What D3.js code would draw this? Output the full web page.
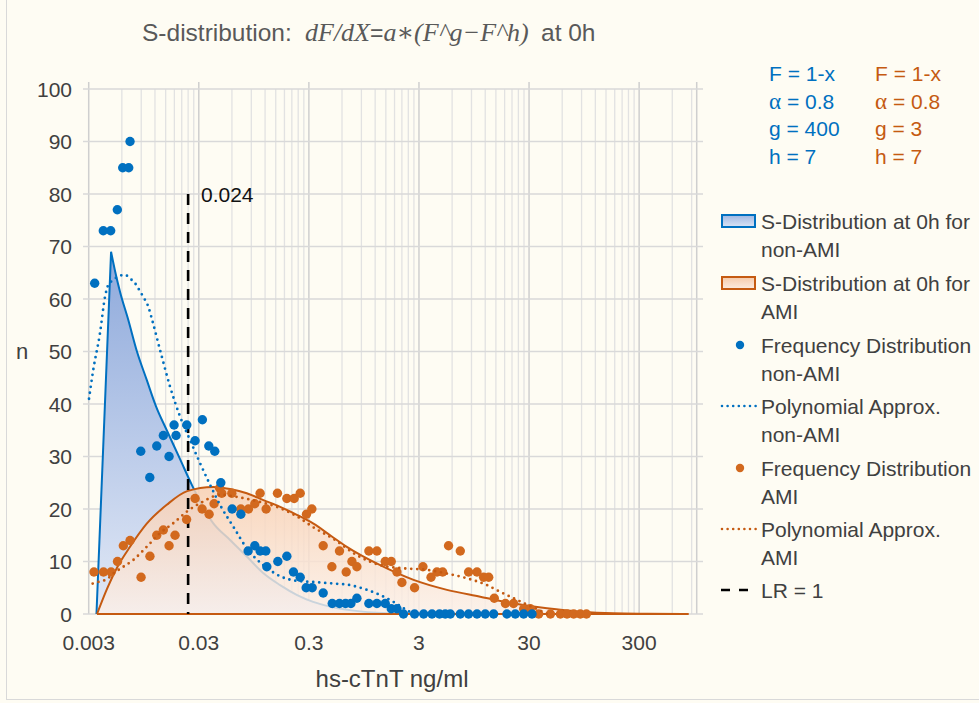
<!DOCTYPE html>
<html><head><meta charset="utf-8">
<script src="https://cdn.jsdelivr.net/npm/d3@7"></script>
<style>
html,body{margin:0;padding:0;background:#fefcf3;}
svg{display:block;}
</style></head>
<body>
<script>
// ---------------- DATA ----------------
const xTickLabels = ["0.003","0.03","0.3","3","30","300"];
const xTickValues = [0.003,0.03,0.3,3,30,300];
const yTickValues = [0,10,20,30,40,50,60,70,80,90,100];
const lrValue = 0.024;

// Frequency distribution non-AMI (dots)
const freqNonAmiX = [0.0034,0.00407,0.00475,0.00546,0.00611,0.00693,0.00712,0.00891,0.01076,0.01245,0.01429,0.01611,0.01789,0.01865,0.02334,0.02776,0.03234,0.03699,0.0419,0.04755,0.06025,0.0723,0.0842,0.0968,0.1082,0.1219,0.1245,0.1567,0.1893,0.2173,0.2502,0.2835,0.3216,0.4047,0.4887,0.569,0.646,0.723,0.819,1.052,1.245,1.482,1.68,1.893,2.17,2.736,3.31,3.94,4.61,5.2,5.78,7.12,8.47,10.1,12.0,14.3,18.9,22.5,26.8,31.9];
const freqNonAmiY = [63,73,73,77,85,85,90,31,26,32,34,30,36,34,36,33,37,32,31,25,20,19,12,13,12,12,9,10,11,8,7,5,5,4,2,2,2,2,3,2,2,2,1,1,0,0,0,0,0,0,0,0,0,0,0,0,0,0,0,0];

// Frequency distribution AMI (dots)
const freqAmiX = [0.00335,0.00409,0.00479,0.00548,0.00619,0.00712,0.00897,0.0108,0.01245,0.01429,0.01611,0.01826,0.02324,0.02776,0.03216,0.03723,0.0413,0.04636,0.0485,0.05986,0.0723,0.0848,0.0968,0.1082,0.1227,0.1555,0.1893,0.2205,0.2502,0.2853,0.3193,0.4047,0.4854,0.569,0.655,0.738,0.819,1.052,1.245,1.482,1.68,1.893,2.1,2.736,3.26,3.86,4.37,4.92,5.57,7.12,8.47,10.1,11.6,12.9,14.5,18.3,21.7,26.8,30.8,36.7,46.9,57.8,66.4,76.3,87.7,99.6];
const freqAmiY = [8,8,8,10,13,14,7,11,15,16,13,15,18,22,20,19,21,24,23,23,20,20,21,23,20,23,22,22,23,19,20,13,9,12,8,10,9,12,12,10,10,8,6,5,9,7,8,8,13,12,8,8,7,7,3,2,2,1,1,0,0,0,0,0,0,0];

// S-distribution at 0h, non-AMI (start, peak, then decay)
const sNonAmiX = [0.00353,0.00479,0.00521,0.00579,0.00687,0.00823,0.0101,0.01229,0.01535,0.02028,0.02607,0.0405,0.05776,0.0824,0.1153,0.1644,0.2349,0.328,0.4685,0.8775,2.03,4.69];
const sNonAmiY = [0,69,65.3,61.3,56,50,44.6,39.5,35,29.5,24.5,17.3,14.1,10.9,7.8,5.5,3.6,2.3,1.4,0.5,0.1,0];

// S-distribution at 0h, AMI
const sAmiX = [0.00357,0.0044,0.00548,0.00712,0.0101,0.01535,0.0235,0.04075,0.05776,0.0819,0.1159,0.1644,0.2334,0.3304,0.4685,0.664,1.334,2.68,5.39,10.8,21.7,43.7,87.7,176,355,842];
const sAmiY = [0,4.8,9,12.8,17.2,20.8,23.4,24.2,23.8,23,21.7,20.4,18.9,17.2,15,12.8,9.3,6.5,4.6,3.3,2,1.1,0.45,0.13,0.05,0];

// Polynomial approximation non-AMI
const polyNonAmiX = [0.00302,0.0033,0.0038,0.00422,0.00452,0.00502,0.00569,0.00641,0.00712,0.00791,0.00865,0.0094,0.01045,0.01121,0.01334,0.01645,0.02028,0.025,0.03084,0.0388,0.04785,0.0619,0.0819,0.1159,0.1644,0.2334,0.3304,0.502,0.664,1.01,1.334,1.763,2.17,2.68];
const polyNonAmiY = [41,46.5,53.5,60.4,62.7,63.6,64.4,64.6,63.9,63,61.7,60.4,58.5,56.3,50.3,43.3,37.6,33.1,28.7,24.2,20.4,16.6,12.5,9.3,7.2,6.3,6.1,5.8,5.6,4.6,3.6,2.3,1.1,0];

// Polynomial approximation AMI
const polyAmiX = [0.00326,0.0038,0.00437,0.00502,0.00619,0.00763,0.0101,0.01334,0.01763,0.02334,0.03084,0.04785,0.0665,0.101,0.1536,0.2334,0.3304,0.502,0.819,1.334,2.17,3.55,5.39,8.19,12.45,16.45,21.7,30.8,36.7,43.7];
const polyAmiY = [5.8,6.2,6.6,7.7,9,10.3,12.8,15.4,17.3,19.5,21.1,22.7,22.3,21.5,20.4,18.6,16.5,14.3,11.2,9.3,8.7,8.4,7.7,6.8,5.5,4.2,3,1.5,0.8,0];

const paramNames = ["F","\u03B1","g","h"];
const paramsNonAmi = ["1-x","0.8","400","7"];
const paramsAmi = ["1-x","0.8","3","7"];
const legendItems = [
  {type:"rectBlue", lines:["S-Distribution at 0h for","non-AMI"]},
  {type:"rectOrange", lines:["S-Distribution at 0h for","AMI"]},
  {type:"dotBlue", lines:["Frequency Distribution","non-AMI"]},
  {type:"dotLineBlue", lines:["Polynomial Approx.","non-AMI"]},
  {type:"dotOrange", lines:["Frequency Distribution","AMI"]},
  {type:"dotLineOrange", lines:["Polynomial Approx.","AMI"]},
  {type:"dash", lines:["LR = 1"]}
];

// ---------------- DRAW ----------------
const W = 979, H = 703;
const BLUE = "#0070c0", ORANGE = "#c55a11", DOT_OR = "#d2691e";
const FONT = "'Liberation Sans',Arial,sans-serif";
const SERIF = "'Liberation Serif','DejaVu Serif',serif";
const svg = d3.select("body").append("svg").attr("width", W).attr("height", H);
svg.append("rect").attr("x",0).attr("y",0).attr("width",W).attr("height",H).attr("fill","#fefcf3");
svg.append("rect").attr("x",6.5).attr("y",-5).attr("width",W).attr("height",704.5).attr("fill","none").attr("stroke","#d9d9d9");

const x = d3.scaleLog().domain([0.003, 1000]).range([88.7, 696.7]);
const y = d3.scaleLinear().domain([0, 100]).range([614, 89]);

const defs = svg.append("defs");
const gb = defs.append("linearGradient").attr("id","gBlue").attr("gradientUnits","userSpaceOnUse")
  .attr("x1",0).attr("x2",0).attr("y1",y(69)).attr("y2",y(0));
gb.append("stop").attr("offset",0).attr("stop-color","#8ea9db");
gb.append("stop").attr("offset",1).attr("stop-color","#e2e9f6");
const go = defs.append("linearGradient").attr("id","gOrange").attr("gradientUnits","userSpaceOnUse")
  .attr("x1",0).attr("x2",0).attr("y1",y(24.2)).attr("y2",y(0));
go.append("stop").attr("offset",0).attr("stop-color","#f8cfb2").attr("stop-opacity",0.85);
go.append("stop").attr("offset",1).attr("stop-color","#fbefe8").attr("stop-opacity",0.8);
const gbl = defs.append("linearGradient").attr("id","gBlueL").attr("x1",0).attr("x2",0).attr("y1",0).attr("y2",1);
gbl.append("stop").attr("offset",0).attr("stop-color","#9fb7e2");
gbl.append("stop").attr("offset",1).attr("stop-color","#dbe4f4");
const gol = defs.append("linearGradient").attr("id","gOrangeL").attr("x1",0).attr("x2",0).attr("y1",0).attr("y2",1);
gol.append("stop").attr("offset",0).attr("stop-color","#f6caa9");
gol.append("stop").attr("offset",1).attr("stop-color","#fcebe0");

// grid
const grid = svg.append("g");
const minor = [];
xTickValues.forEach(b => { for (let k = 2; k <= 9; k++) { if (b*k < 1000) minor.push(b*k); } });
grid.selectAll("line.minor").data(minor).enter().append("line")
  .attr("x1", d => x(d)).attr("x2", d => x(d)).attr("y1", y(100)).attr("y2", y(0))
  .attr("stroke","#e2e2e2").attr("stroke-width",1.3);
grid.selectAll("line.major").data(xTickValues.concat([1000])).enter().append("line")
  .attr("x1", d => x(d)).attr("x2", d => x(d)).attr("y1", y(100)-7).attr("y2", y(0))
  .attr("stroke","#cfcfcf").attr("stroke-width",1.5);
grid.selectAll("line.h").data(yTickValues).enter().append("line")
  .attr("x1", 83).attr("x2", 703).attr("y1", d => y(d)).attr("y2", d => y(d))
  .attr("stroke","#d9d9d9").attr("stroke-width",1.5);

// S-distribution non-AMI: straight rise to the peak, smooth decay after it
const ptsNon = sNonAmiX.map((v,i)=>[v,sNonAmiY[i]]);
const smoothLine = d3.line().x(d=>x(d[0])).y(d=>y(d[1])).curve(d3.curveMonotoneX);
const decayPath = smoothLine(ptsNon.slice(1));
const nonLine = `M${x(ptsNon[0][0])},${y(0)}L` + decayPath.substring(1);
const nonArea = nonLine + `L${x(ptsNon[ptsNon.length-1][0])},${y(0)}Z`;
svg.append("path").attr("d", nonArea).attr("fill","url(#gBlue)");
svg.append("path").attr("d", nonLine).attr("fill","none").attr("stroke",BLUE).attr("stroke-width",2);

// S-distribution AMI
const ptsAmi = sAmiX.map((v,i)=>[v,sAmiY[i]]);
const areaS = d3.area().x(d=>x(d[0])).y0(y(0)).y1(d=>y(d[1])).curve(d3.curveMonotoneX);
svg.append("path").attr("d", areaS(ptsAmi)).attr("fill","url(#gOrange)");
svg.append("path").attr("d", smoothLine(ptsAmi)).attr("fill","none").attr("stroke",ORANGE).attr("stroke-width",2);
svg.append("line").attr("x1", x(sAmiX[0])).attr("x2", x(sAmiX[sAmiX.length-1])).attr("y1",y(0)).attr("y2",y(0))
  .attr("stroke",ORANGE).attr("stroke-width",2);

// LR line
svg.append("line").attr("x1",x(lrValue)).attr("x2",x(lrValue)).attr("y1",y(80)).attr("y2",y(0))
  .attr("stroke","#000").attr("stroke-width",2.6).attr("stroke-dasharray","11 8");
svg.append("text").attr("x", 201).attr("y", 202).text("0.024")
  .attr("font-family",FONT).attr("font-size",21).attr("fill","#111");

// dots
const dotsBlue = freqNonAmiX.map((v,i)=>[v,freqNonAmiY[i]]);
const dotsOr = freqAmiX.map((v,i)=>[v,freqAmiY[i]]);
svg.append("g").selectAll("circle").data(dotsOr).enter().append("circle")
  .attr("cx",d=>x(d[0])).attr("cy",d=>y(d[1])).attr("r",4.7).attr("fill",DOT_OR);
svg.append("g").selectAll("circle").data(dotsBlue).enter().append("circle")
  .attr("cx",d=>x(d[0])).attr("cy",d=>y(d[1])).attr("r",4.7).attr("fill",BLUE);

// polynomial dotted
svg.append("path").attr("d", smoothLine(polyNonAmiX.map((v,i)=>[v,polyNonAmiY[i]])))
  .attr("fill","none").attr("stroke",BLUE).attr("stroke-width",2.8).attr("stroke-linecap","round").attr("stroke-dasharray","0 6");
svg.append("path").attr("d", smoothLine(polyAmiX.map((v,i)=>[v,polyAmiY[i]])))
  .attr("fill","none").attr("stroke",ORANGE).attr("stroke-width",2.8).attr("stroke-linecap","round").attr("stroke-dasharray","0 6");

// axes labels
const TXT = "#404040";
svg.append("g").selectAll("text").data(xTickValues).enter().append("text")
  .attr("x", d=>x(d)).attr("y", 650).attr("text-anchor","middle")
  .attr("font-family",FONT).attr("font-size",21).attr("fill",TXT).text((d,i)=>xTickLabels[i]);
svg.append("g").selectAll("text").data(yTickValues).enter().append("text")
  .attr("x", 72).attr("y", d=>y(d)+7.5).attr("text-anchor","end")
  .attr("font-family",FONT).attr("font-size",21).attr("fill",TXT).text(d=>d);
svg.append("text").attr("x",392).attr("y",687).attr("text-anchor","middle")
  .attr("font-family",FONT).attr("font-size",24).attr("fill",TXT).text("hs-cTnT ng/ml");
svg.append("text").attr("x",22).attr("y",359).attr("text-anchor","middle")
  .attr("font-family",FONT).attr("font-size",22).attr("fill",TXT).text("n");

// title
const TC = "#595959";
svg.append("text").attr("x",142).attr("y",41).attr("font-family",FONT).attr("font-size",24.5).attr("fill",TC).text("S-distribution:");
const ft = svg.append("text").attr("x",305).attr("y",41).attr("font-size",26).attr("fill",TC);
ft.append("tspan").attr("font-family",SERIF).attr("font-style","italic").text("dF/dX");
ft.append("tspan").attr("font-family",FONT).attr("font-size",23).text("=");
ft.append("tspan").attr("font-family",SERIF).attr("font-style","italic").text("a\u2217(F^g\u2212F^h)");
svg.append("text").attr("x",541).attr("y",41).attr("font-family",FONT).attr("font-size",24.5).attr("fill",TC).text("at 0h");

// params
function paramText(col, vals, color) {
  vals.forEach((v,i)=>{
    const t = svg.append("text").attr("x",col).attr("y",81+i*27.5).attr("font-size",21).attr("fill",color);
    t.append("tspan").attr("font-family", i===1 ? SERIF : FONT).attr("font-size", i===1 ? 23 : 21).text(paramNames[i]);
    t.append("tspan").attr("font-family",FONT).text(" = " + v);
  });
}
paramText(769, paramsNonAmi, BLUE);
paramText(875, paramsAmi, ORANGE);

// legend
const lg = svg.append("g");
const itemTops = [221,283,345,406,468,529,590];
legendItems.forEach((it,i)=>{
  const cy = itemTops[i];
  it.lines.forEach((t,j)=>lg.append("text").attr("x",761).attr("y",cy+7.5+j*28.7)
    .attr("font-family",FONT).attr("font-size",21).attr("fill",TXT).text(t));
  if (it.type==="rectBlue"||it.type==="rectOrange") {
    lg.append("rect").attr("x",722).attr("y",cy-6).attr("width",33).attr("height",12)
      .attr("fill", it.type==="rectBlue"?"url(#gBlueL)":"url(#gOrangeL)")
      .attr("stroke", it.type==="rectBlue"?BLUE:ORANGE).attr("stroke-width",2);
  } else if (it.type==="dotBlue"||it.type==="dotOrange") {
    lg.append("circle").attr("cx",740).attr("cy",cy).attr("r",4.2).attr("fill", it.type==="dotBlue"?BLUE:DOT_OR);
  } else if (it.type==="dotLineBlue"||it.type==="dotLineOrange") {
    lg.append("line").attr("x1",722).attr("x2",756).attr("y1",cy).attr("y2",cy)
      .attr("stroke", it.type==="dotLineBlue"?BLUE:ORANGE).attr("stroke-width",2.6)
      .attr("stroke-linecap","round").attr("stroke-dasharray","0 5.6");
  } else {
    lg.append("line").attr("x1",721).attr("x2",749).attr("y1",cy).attr("y2",cy)
      .attr("stroke","#000").attr("stroke-width",2.6).attr("stroke-dasharray","9 9");
  }
});
</script>
</body></html>
